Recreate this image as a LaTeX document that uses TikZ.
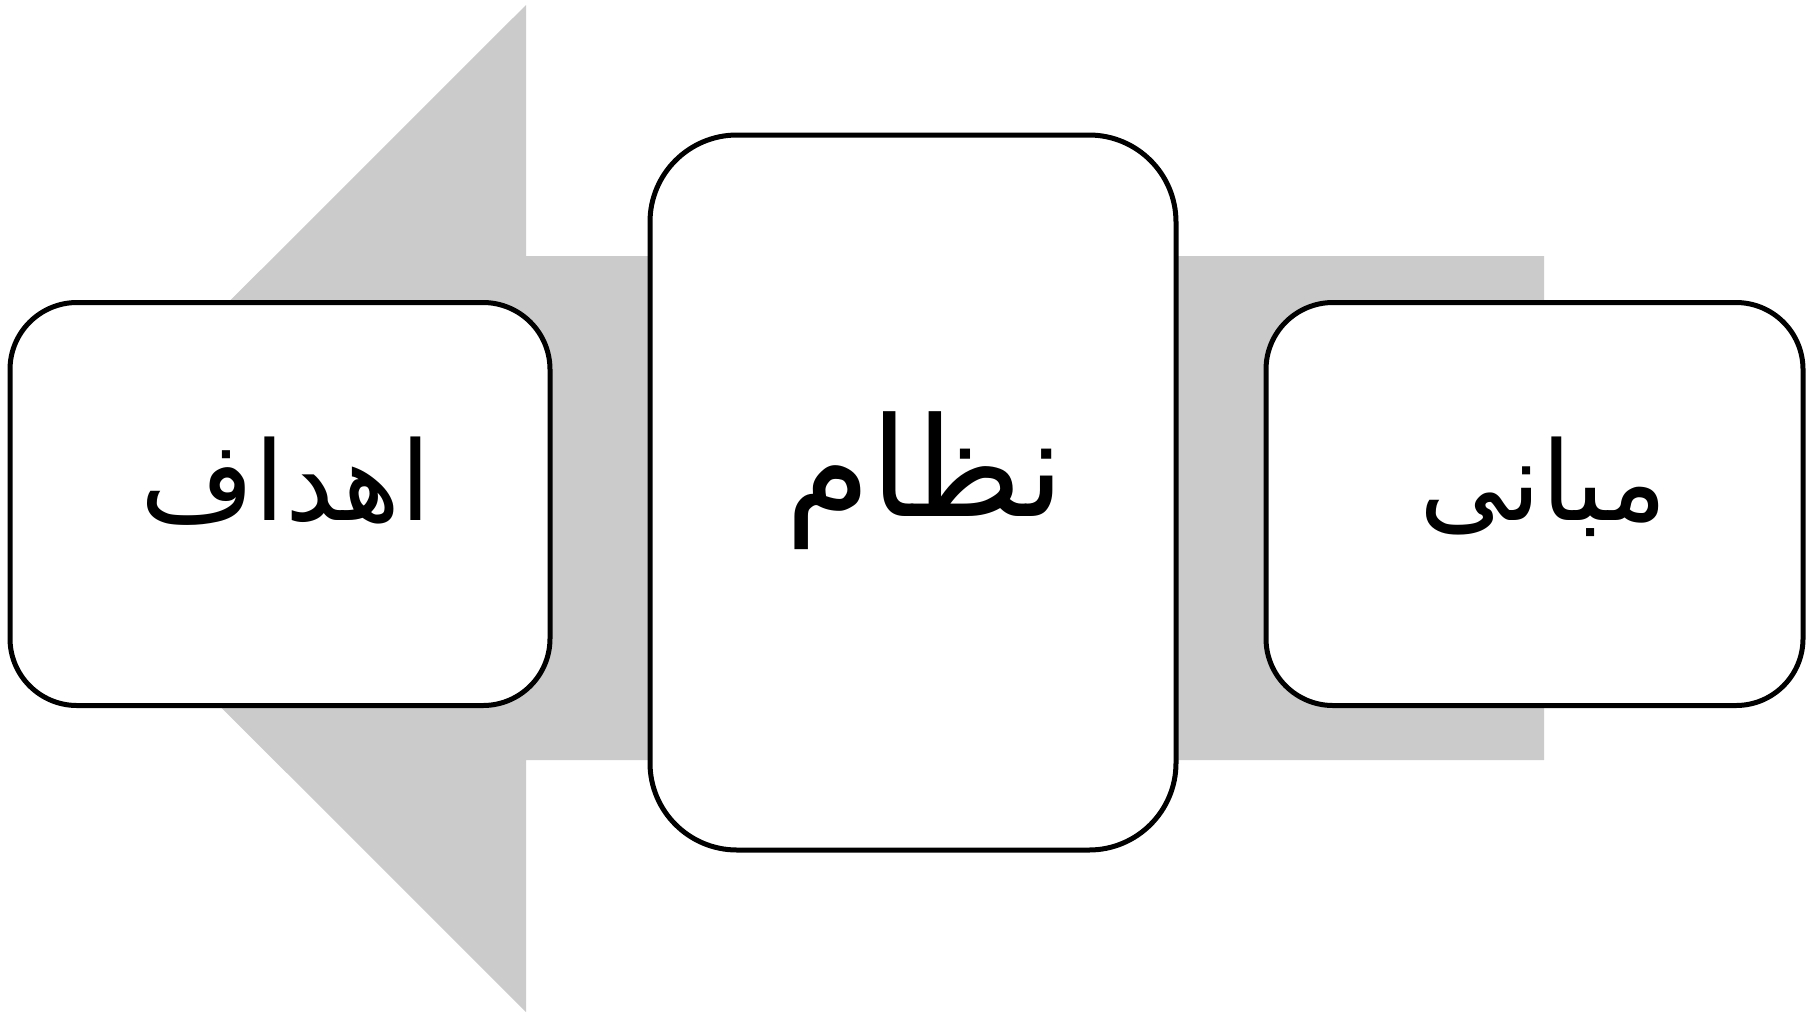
\documentclass[tikz,border=0pt]{standalone}
\usepackage{fontspec}
\TeXXeTstate=1
\newfontfamily\arabicfont[Script=Arabic]{DejaVu Sans}
\definecolor{arrowgray}{HTML}{CBCBCB}
\tikzset{
  box/.style={draw=black, line width=5pt, fill=white, rounded corners=#1, inner sep=0pt},
  box/.default=67pt,
  lbl/.style={anchor=base, inner sep=0pt, font=\arabicfont\fontsize{110}{130}\selectfont},
  biglbl/.style={anchor=base, inner sep=0pt, font=\arabicfont\fontsize{138}{160}\selectfont}
}
\begin{document}
\begin{tikzpicture}[x=1pt,y=-1pt]
\useasboundingbox (0,0) rectangle (1811,1013);
% big arrow
\fill[arrowgray] (1544,256) -- (526,256) -- (526,5) -- (22,508.5) -- (526,1012) -- (526,760) -- (1544,760) -- cycle;
% boxes
\node[box, minimum width=540pt, minimum height=403pt] (goals) at (280,504) {};
\node[box=87pt, minimum width=526pt, minimum height=715pt] (system) at (913,492.5) {};
\node[box, minimum width=537pt, minimum height=403pt] (basis) at (1534.5,504) {};
% labels
\node[lbl] (goalstext) at (286,520) {\beginR اهداف\endR};
\node[biglbl] (systemtext) at (925,516) {\beginR نظام\endR};
\node[lbl] (basistext) at (1543,520) {\beginR مبانی\endR};
\end{tikzpicture}
\end{document}
